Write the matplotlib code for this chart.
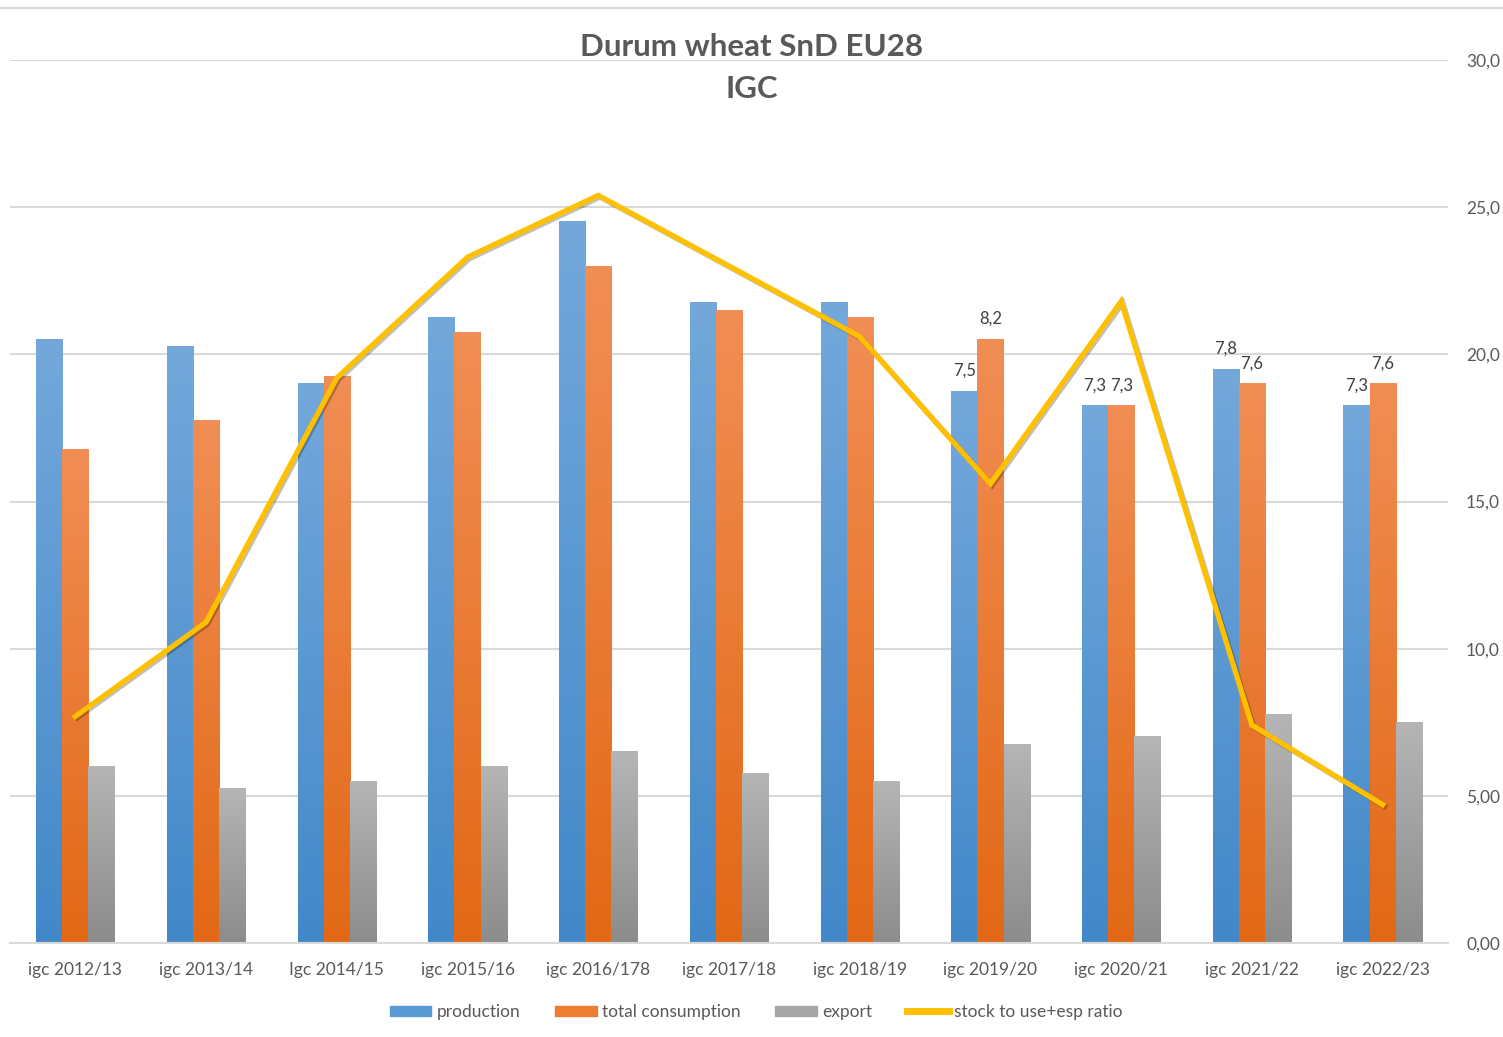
import numpy as np
import matplotlib
matplotlib.use("Agg")
import matplotlib.pyplot as plt
from matplotlib.colors import LinearSegmentedColormap
from matplotlib.patches import Patch
from matplotlib.lines import Line2D
import matplotlib.patheffects as pe

# --- data ---
seasons = ['igc 2012/13', 'igc 2013/14', 'Igc 2014/15', 'igc 2015/16', 'igc 2016/178',
           'igc 2017/18', 'igc 2018/19', 'igc 2019/20', 'igc 2020/21', 'igc 2021/22',
           'igc 2022/23']
production = [8.2, 8.1, 7.6, 8.5, 9.8, 8.7, 8.7, 7.5, 7.3, 7.8, 7.3]
consumption = [6.7, 7.1, 7.7, 8.3, 9.2, 8.6, 8.5, 8.2, 7.3, 7.6, 7.6]
export = [2.4, 2.1, 2.2, 2.4, 2.6, 2.3, 2.2, 2.7, 2.8, 3.1, 3.0]
stock_ratio = [7.7, 10.9, 19.2, 23.3, 25.4, 23.0, 20.6, 15.6, 21.8, 7.4, 4.7]
right_ticks = [0, 5, 10, 15, 20, 25, 30]
right_labels = ['0,00', '5,00', '10,0', '15,0', '20,0', '25,0', '30,0']
labelled_from = 7  # data labels only from 2019/20 on

plt.rcParams['font.family'] = ['Lato', 'DejaVu Sans']
txt_col = '#595959'
grid_col = '#D9D9D9'

fig = plt.figure(figsize=(15.03, 10.37), dpi=100)
ax = fig.add_axes([10 / 1503, 1 - 943 / 1037, (1448 - 10) / 1503, (943 - 60) / 1037])
ax2 = ax.twinx()

x = np.arange(len(seasons))
w = 0.2

def gradient_bars(bars, top, bottom):
    grad = np.linspace(0, 1, 256).reshape(-1, 1)
    cmap = LinearSegmentedColormap.from_list('g', [bottom, top])
    for b in bars:
        bx, by = b.get_xy()
        ax.imshow(grad, extent=[bx, bx + b.get_width(), by, by + b.get_height()],
                  origin='lower', cmap=cmap, aspect='auto', zorder=2,
                  interpolation='bilinear')
        b.set_facecolor('none')

b1 = ax.bar(x - w, production, w, color='#5B9BD5', zorder=2, linewidth=0)
b2 = ax.bar(x, consumption, w, color='#ED7D31', zorder=2, linewidth=0)
b3 = ax.bar(x + w, export, w, color='#A5A5A5', zorder=2, linewidth=0)
gradient_bars(b1, '#74A8DB', '#4288C9')
gradient_bars(b2, '#F18E55', '#E26815')
gradient_bars(b3, '#B5B5B5', '#8C8C8C')

# labels on the last seasons
for i in range(labelled_from, len(seasons)):
    ax.annotate(f"{production[i]:.1f}".replace('.', ','), (x[i] - w, production[i]),
                xytext=(0, 9), textcoords='offset points', ha='center', va='bottom',
                fontsize=12, color='#404040')
    ax.annotate(f"{consumption[i]:.1f}".replace('.', ','), (x[i], consumption[i]),
                xytext=(0, 9), textcoords='offset points', ha='center', va='bottom',
                fontsize=12, color='#404040')

ax.set_xlim(-0.5, len(seasons) - 0.5)
ax.set_ylim(0, 12)
ax.set_yticks(np.arange(0, 13, 2))
ax.yaxis.grid(True, color=grid_col, linewidth=1.5, zorder=0)
ax.set_axisbelow(True)
ax.tick_params(axis='y', left=False, labelleft=False)
ax.set_xticks(x)
ax.set_xticklabels(seasons, fontsize=12.5, color=txt_col)
ax.tick_params(axis='x', length=0, pad=14)
for s in ['top', 'right', 'left']:
    ax.spines[s].set_visible(False)
ax.spines['bottom'].set_color(grid_col)
ax.spines['bottom'].set_linewidth(1.5)

ax2.plot(x, stock_ratio, color='#FFC000', linewidth=3.8, solid_joinstyle='miter',
         path_effects=[pe.SimpleLineShadow(offset=(1.2, -1.2), alpha=0.25), pe.Normal()])
ax2.set_ylim(0, 30)
ax2.set_yticks(right_ticks)
ax2.set_yticklabels(right_labels, fontsize=12.5, color=txt_col)
ax2.tick_params(axis='y', length=0, pad=13)
for s in ['top', 'right', 'left', 'bottom']:
    ax2.spines[s].set_visible(False)

# top border line and title
fig.add_artist(Line2D([0, 1], [1 - 8 / 1037] * 2, color=grid_col, linewidth=1.5))
fig.text(0.5, 1 - 47 / 1037, 'Durum wheat SnD EU28', ha='center', va='center',
         fontsize=22.5, fontweight='bold', color=txt_col)
fig.text(0.5, 1 - 89 / 1037, 'IGC', ha='center', va='center',
         fontsize=22.5, fontweight='bold', color=txt_col)

handles = [Patch(color='#5B9BD5'), Patch(color='#ED7D31'), Patch(color='#A5A5A5'),
           Line2D([], [], color='#FFC000', linewidth=5)]
names = ['production', 'total consumption', 'export', 'stock to use+esp ratio']
fig.legend(handles, names, loc='center', bbox_to_anchor=(0.503, 1 - 1012 / 1037),
           ncol=4, frameon=False, fontsize=12.5, labelcolor=txt_col,
           handlelength=2.4, handleheight=0.55, handletextpad=0.3, columnspacing=2.0)

fig.savefig('out.png', dpi=100)
